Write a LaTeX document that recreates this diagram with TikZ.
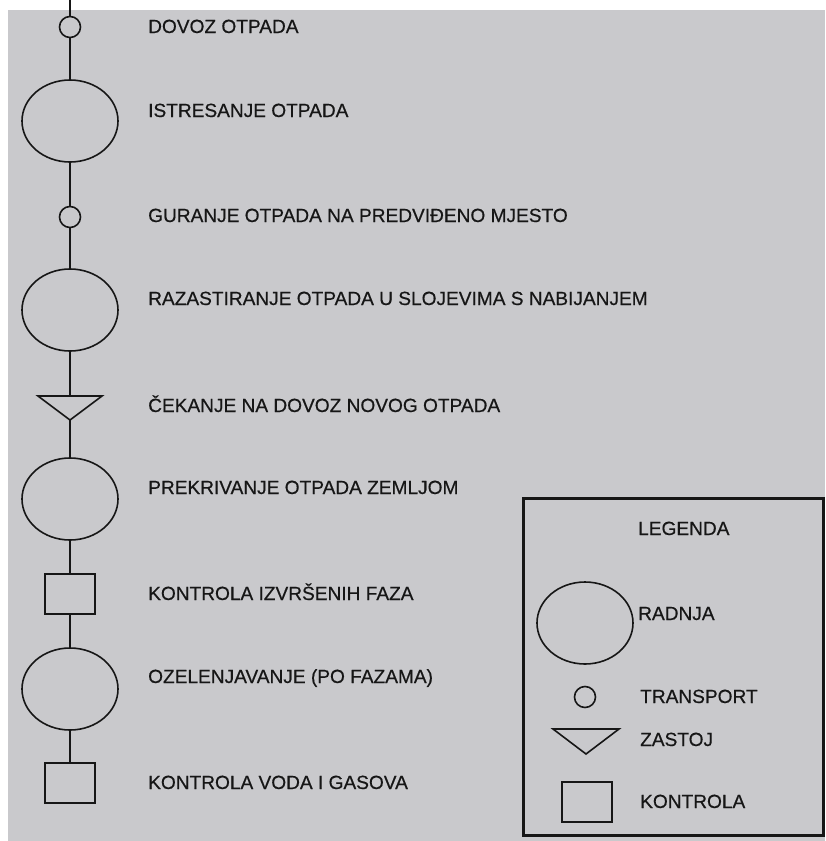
\documentclass[tikz,border=0pt]{standalone}
\usepackage{fontspec}
\setmainfont{Liberation Sans}[FakeBold=0.5]
\usepackage{tikz}
\usetikzlibrary{shapes.geometric}
\definecolor{scan_grey}{RGB}{201,201,204}
\definecolor{ink}{RGB}{22,22,22}

\begin{document}
\begin{tikzpicture}[x=1pt, y=-1pt,
        flow/.style={ink, line width=1.6pt},
        radnja/.style={draw=ink, line width=1.6pt, ellipse, inner sep=0pt, minimum width=96pt, minimum height=82pt},
        transport/.style={draw=ink, line width=1.6pt, circle, inner sep=0pt, minimum size=21pt},
        kontrola/.style={draw=ink, line width=1.6pt, rectangle, inner sep=0pt, minimum width=50pt, minimum height=40pt},
        label/.style={anchor=base west, inner sep=0pt, text=ink, font=\fontsize{19.1}{21}\selectfont}]
                \useasboundingbox (0,0) rectangle (825,841);
                \fill[white] (0,0) rectangle (825,841);
                \fill[scan_grey] (8,10) rectangle (825,841);
                % steps of the process
                \coordinate (start) at (70,0);
                \node[transport] (dovoz) at (70,27) {};
                \node[radnja] (istresanje) at (70,121) {};
                \node[transport] (guranje) at (70,217) {};
                \node[radnja] (razastiranje) at (70,310) {};
                \coordinate (cekTop) at (70,396);
                \coordinate (cekApex) at (70,420);
                \draw[flow, line join=miter] (38,396) -- (102,396) -- (cekApex) -- cycle;
                \node[radnja] (prekrivanje) at (70,499) {};
                \node[kontrola] (kontrolaFaza) at (70,594) {};
                \node[radnja] (ozelenjavanje) at (70,689) {};
                \node[kontrola] (kontrolaVoda) at (70,783) {};
                \draw[flow] (start) -- (dovoz) -- (istresanje) -- (guranje) -- (razastiranje) -- (cekTop);
                \draw[flow] (cekApex) -- (prekrivanje) -- (kontrolaFaza) -- (ozelenjavanje) -- (kontrolaVoda);
                \node[label] (lblDovoz) at (148,33) {DOVOZ OTPADA};
                \node[label] (lblIstresanje) at (148,117) {ISTRESANJE OTPADA};
                \node[label] (lblGuranje) at (148,222) {GURANJE OTPADA NA PREDVIĐENO MJESTO};
                \node[label] (lblRazastiranje) at (148,305) {RAZASTIRANJE OTPADA U SLOJEVIMA S NABIJANJEM};
                \node[label] (lblCekanje) at (148,412) {ČEKANJE NA DOVOZ NOVOG OTPADA};
                \node[label] (lblPrekrivanje) at (148,494) {PREKRIVANJE OTPADA ZEMLJOM};
                \node[label] (lblKontrolaFaza) at (148,600) {KONTROLA IZVRŠENIH FAZA};
                \node[label] (lblOzelenjavanje) at (148,683) {OZELENJAVANJE (PO FAZAMA)};
                \node[label] (lblKontrolaVoda) at (148,789) {KONTROLA VODA I GASOVA};
                % legend
                \draw[ink, line width=3pt] (523,498) rectangle (823,835);
                \node[label] (lblLegenda) at (638,535) {LEGENDA};
                \node[radnja] (legRadnja) at (585,623) {};
                \node[label] (lblRadnja) at (638,620) {RADNJA};
                \node[transport] (legTransport) at (585,697) {};
                \node[label] (lblTransport) at (640,703) {TRANSPORT};
                \draw[flow, line join=miter] (553,729) -- (619,729) -- (586,754) -- cycle;
                \node[label] (lblZastoj) at (640,746) {ZASTOJ};
                \node[kontrola] (legKontrola) at (587,802) {};
                \node[label] (lblKontrola) at (640,808) {KONTROLA};
\end{tikzpicture}
\end{document}
